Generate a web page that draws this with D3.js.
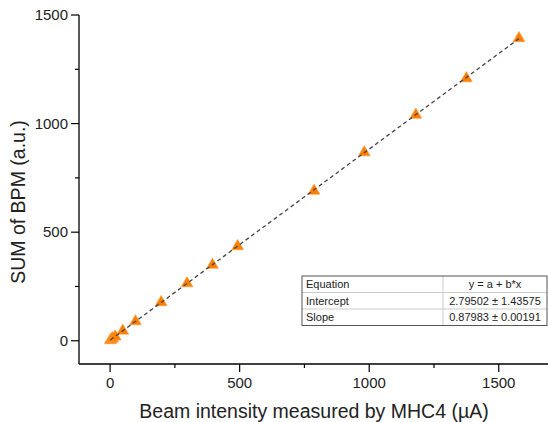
<!DOCTYPE html>
<html>
<head>
<meta charset="utf-8">
<script src="https://cdn.jsdelivr.net/npm/d3@7"></script>
<style>
  body { margin: 0; background: #fff; }
  svg { font-family: "Liberation Sans", Arial, sans-serif; }
</style>
</head>
<body>
<svg width="548" height="422"></svg>
<script>
// measured values
const beamX = [1, 5, 10, 20, 49, 98, 197, 297, 395, 492, 787, 981, 1180, 1375, 1578];
const bpmY  = [2, 7, 11, 19, 46, 89, 177, 264, 349, 435, 690, 867, 1040, 1208, 1393];

// linear fit y = a + b*x
const fitA = 2.79502, fitB = 0.87983;

const xTicks = [0, 500, 1000, 1500];
const yTicks = [0, 500, 1000, 1500];
const xMinor = [250, 750, 1250];
const yMinor = [250, 750, 1250];

const tableRows = [
  ["Equation", "y = a + b*x"],
  ["Intercept", "2.79502 \u00b1 1.43575"],
  ["Slope", "0.87983 \u00b1 0.00191"]
];

const svg = d3.select("svg");

const x = d3.scaleLinear().domain([-120, 1690]).range([79, 548]);
const y = d3.scaleLinear().domain([-107, 1500]).range([364, 15]);

// x axis
const xAxis = svg.append("g").attr("transform", "translate(0,364)");
xAxis.append("line")
  .attr("x1", 79).attr("x2", 548)
  .attr("stroke", "#000").attr("stroke-width", 1.3);
xAxis.selectAll("line.major").data(xTicks).join("line")
  .attr("class", "major")
  .attr("x1", d => x(d)).attr("x2", d => x(d))
  .attr("y1", 0).attr("y2", 8)
  .attr("stroke", "#000").attr("stroke-width", 1.2);
xAxis.selectAll("line.minor").data(xMinor).join("line")
  .attr("class", "minor")
  .attr("x1", d => x(d)).attr("x2", d => x(d))
  .attr("y1", 0).attr("y2", 4)
  .attr("stroke", "#000").attr("stroke-width", 1.2);
xAxis.selectAll("text").data(xTicks).join("text")
  .attr("x", d => x(d)).attr("y", 24)
  .attr("text-anchor", "middle")
  .attr("font-size", 15)
  .attr("fill", "#222")
  .text(d => d);

// y axis
const yAxis = svg.append("g").attr("transform", "translate(79,0)");
yAxis.append("line")
  .attr("y1", 15).attr("y2", 364)
  .attr("stroke", "#000").attr("stroke-width", 1.3);
yAxis.selectAll("line.major").data(yTicks).join("line")
  .attr("class", "major")
  .attr("y1", d => y(d)).attr("y2", d => y(d))
  .attr("x1", 0).attr("x2", -8)
  .attr("stroke", "#000").attr("stroke-width", 1.2);
yAxis.selectAll("line.minor").data(yMinor).join("line")
  .attr("class", "minor")
  .attr("y1", d => y(d)).attr("y2", d => y(d))
  .attr("x1", 0).attr("x2", -4)
  .attr("stroke", "#000").attr("stroke-width", 1.2);
yAxis.selectAll("text").data(yTicks).join("text")
  .attr("x", -11).attr("y", d => y(d))
  .attr("dy", "0.35em")
  .attr("text-anchor", "end")
  .attr("font-size", 15)
  .attr("fill", "#222")
  .text(d => d);

// axis titles
svg.append("text")
  .attr("x", 314).attr("y", 418)
  .attr("text-anchor", "middle")
  .attr("font-size", 19.5)
  .attr("fill", "#222")
  .text("Beam intensity measured by MHC4 (\u00b5A)");

svg.append("text")
  .attr("transform", "translate(25,202) rotate(-90)")
  .attr("text-anchor", "middle")
  .attr("font-size", 19.5)
  .attr("fill", "#222")
  .text("SUM of BPM (a.u.)");

// points
const data = beamX.map((d, i) => ({ x: d, y: bpmY[i] }));
const tri = d3.symbol().type(d3.symbolTriangle).size(60);
svg.selectAll("path.point").data(data).join("path")
  .attr("class", "point")
  .attr("d", tri)
  .attr("transform", d => `translate(${x(d.x)},${y(d.y)})`)
  .attr("fill", "#ff7f00")
  .attr("stroke", "#ff9a40")
  .attr("stroke-width", 0.6);

// fit line
const xMin = d3.min(beamX), xMax = d3.max(beamX);
svg.append("line")
  .attr("x1", x(xMin)).attr("y1", y(fitA + fitB * xMin))
  .attr("x2", x(xMax)).attr("y2", y(fitA + fitB * xMax))
  .attr("stroke", "#444")
  .attr("stroke-width", 1.3)
  .attr("stroke-dasharray", "4,3");

// fit table
const tX = 302, tW = 245, tSplit = 443, rowH = 16.5, tY = 276;
const table = svg.append("g");
table.append("rect")
  .attr("x", tX).attr("y", tY)
  .attr("width", tW).attr("height", rowH * tableRows.length)
  .attr("fill", "#fff");
tableRows.forEach((r, i) => {
  if (i > 0) {
    table.append("line")
      .attr("x1", tX).attr("x2", tX + tW)
      .attr("y1", tY + rowH * i).attr("y2", tY + rowH * i)
      .attr("stroke", "#ccc").attr("stroke-width", 1);
  }
  table.append("text")
    .attr("x", tX + 4).attr("y", tY + rowH * i + rowH / 2)
    .attr("dy", "0.35em")
    .attr("font-size", 11)
    .attr("fill", "#222")
    .text(r[0]);
  table.append("text")
    .attr("x", (tSplit + tX + tW) / 2).attr("y", tY + rowH * i + rowH / 2)
    .attr("dy", "0.35em")
    .attr("text-anchor", "middle")
    .attr("font-size", 11)
    .attr("fill", "#222")
    .text(r[1]);
});
table.append("line")
  .attr("x1", tSplit).attr("x2", tSplit)
  .attr("y1", tY).attr("y2", tY + rowH * tableRows.length)
  .attr("stroke", "#ccc").attr("stroke-width", 1);
table.append("rect")
  .attr("x", tX).attr("y", tY)
  .attr("width", tW).attr("height", rowH * tableRows.length)
  .attr("fill", "none")
  .attr("stroke", "#555").attr("stroke-width", 1);
</script>
</body>
</html>
